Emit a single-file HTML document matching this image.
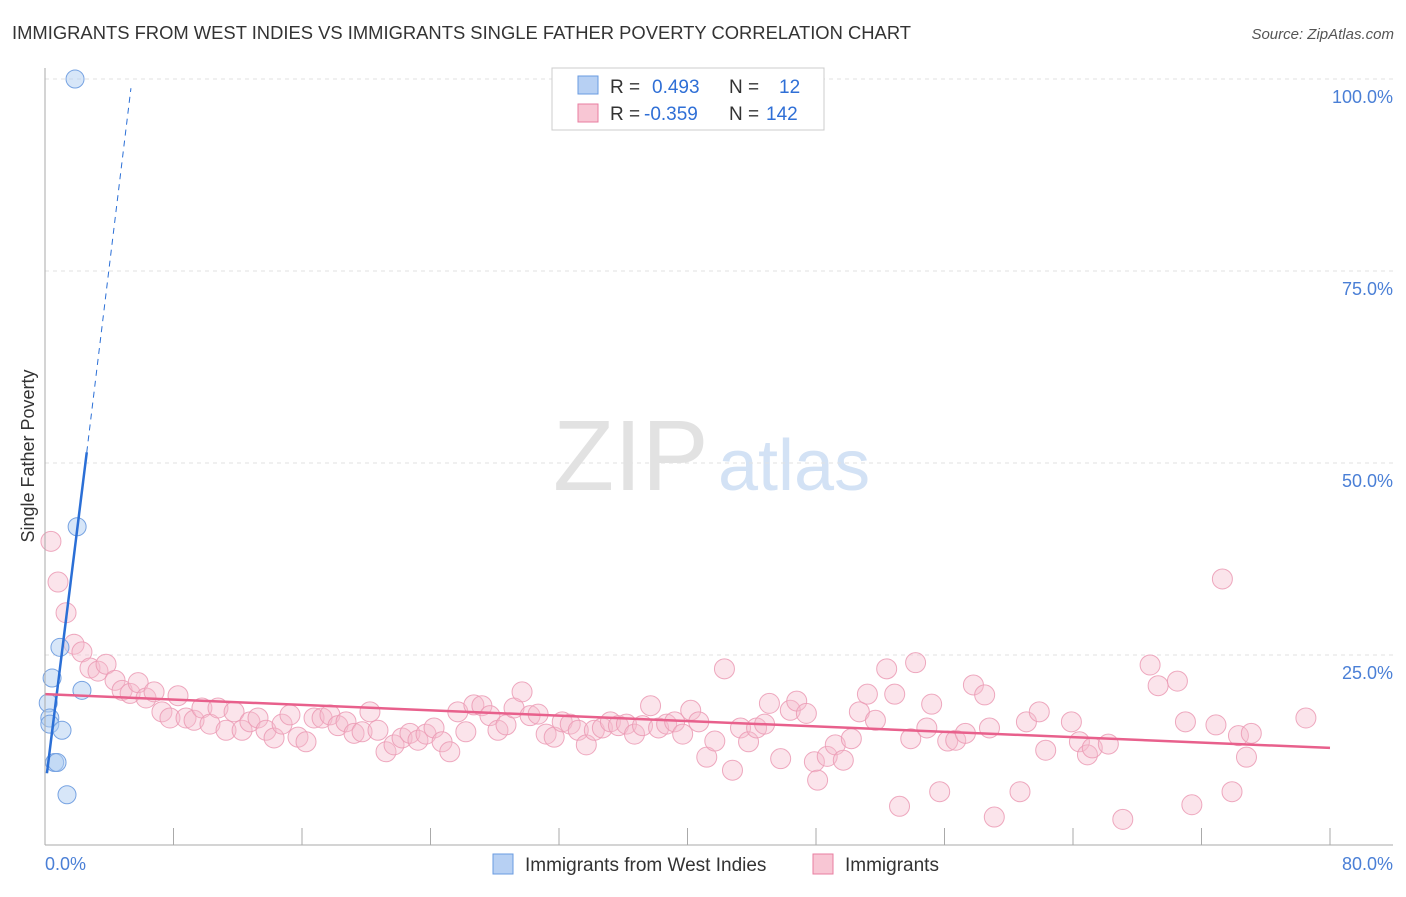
<!DOCTYPE html>
<html><head><meta charset="utf-8"><style>
body{margin:0;background:#fff;font-family:"Liberation Sans",sans-serif;}
svg text{font-family:"Liberation Sans",sans-serif;}
</style></head><body>
<svg id="chart" width="1406" height="892" xmlns="http://www.w3.org/2000/svg">
<text x="12" y="39" font-size="18" fill="#333" textLength="899" lengthAdjust="spacingAndGlyphs">IMMIGRANTS FROM WEST INDIES VS IMMIGRANTS SINGLE FATHER POVERTY CORRELATION CHART</text>
<text x="1394" y="39" font-size="15" fill="#555" text-anchor="end" font-style="italic">Source: ZipAtlas.com</text>
<text x="553" y="490" font-size="100" fill="#e2e2e2" font-family="Liberation Serif">ZIP</text>
<text x="718" y="490" font-size="72" fill="#d3e2f5">atlas</text>
<text transform="translate(34,456) rotate(-90)" font-size="18" fill="#333" text-anchor="middle">Single Father Poverty</text>
<g id="grid"></g><g id="ticks"></g><g id="pts"></g><g id="trends"></g>
<line x1="45" y1="68" x2="45" y2="845" stroke="#aaa"/>
<line x1="45" y1="845" x2="1393" y2="845" stroke="#aaa"/>
<text x="45" y="870" font-size="18" fill="#4a7fd6">0.0%</text>
<text x="1393" y="870" font-size="18" fill="#4a7fd6" text-anchor="end">80.0%</text>
<g>
<rect x="552" y="68" width="272" height="62" fill="#fff" stroke="#ccc"/>
<rect x="578" y="76" width="20" height="18" fill="#b7d0f3" stroke="#6a9be0"/>
<rect x="578" y="104" width="20" height="18" fill="#f8c6d4" stroke="#e87ea0"/>
<text x="610" y="93" font-size="19" fill="#333">R = </text><text x="652" y="93" font-size="19" fill="#2f6fd6">0.493</text>
<text x="729" y="93" font-size="19" fill="#333">N = </text><text x="779" y="93" font-size="19" fill="#2f6fd6">12</text>
<text x="610" y="120" font-size="19" fill="#333">R = </text><text x="644" y="120" font-size="19" fill="#2f6fd6">-0.359</text>
<text x="729" y="120" font-size="19" fill="#333">N = </text><text x="766" y="120" font-size="19" fill="#2f6fd6">142</text>
</g>
<g><rect x="493" y="854" width="20" height="20" fill="#b7d0f3" stroke="#6a9be0"/><text x="525" y="871" font-size="19" fill="#333">Immigrants from West Indies</text></g>
<g><rect x="813" y="854" width="20" height="20" fill="#f8c6d4" stroke="#e87ea0"/><text x="845" y="871" font-size="19" fill="#333">Immigrants</text></g>
</svg>
<script>
const yTicks=[25,50,75,100];
const xTicks=[0,8,16,24,32,40,48,56,64,72,80];
const blueX=[1.87,2.0,0.93,0.44,2.3,0.2,0.3,0.3,1.06,0.6,0.75,1.37];
const blueY=[100,41.7,26,22,20.4,18.75,16.8,16,15.2,11,11,6.8];
const pinkX=[0.37,0.81,1.31,1.81,2.3,2.8,3.3,3.8,4.36,4.8,5.3,5.8,6.29,6.79,7.28,7.78,8.28,8.78,9.28,9.77,10.27,10.77,11.27,11.77,12.27,12.76,13.26,13.76,14.26,14.76,15.25,15.75,16.25,16.75,17.25,17.74,18.24,18.74,19.24,19.74,20.23,20.73,21.23,21.73,22.23,22.72,23.22,23.72,24.22,24.72,25.2,25.7,26.2,26.7,27.2,27.7,28.2,28.7,29.2,29.7,30.2,30.7,31.2,31.7,32.2,32.7,33.2,33.7,34.2,34.7,35.2,35.7,36.2,36.7,37.2,37.7,38.2,38.7,39.2,39.7,40.2,40.7,41.2,41.7,42.3,42.8,43.3,43.8,44.3,44.8,45.1,45.8,46.4,46.8,47.4,47.9,48.1,48.7,49.2,49.7,50.2,50.7,51.2,51.7,52.4,52.9,53.2,53.9,54.2,54.9,55.2,55.7,56.2,56.7,57.3,57.8,58.5,58.8,59.1,60.7,61.1,61.9,62.3,63.9,64.4,64.9,65.2,66.2,67.1,68.8,69.3,70.5,71.0,71.4,72.9,73.3,73.9,74.3,74.8,75.1,78.5];
const pinkY=[39.8,34.5,30.5,26.4,25.4,23.3,22.9,23.8,21.7,20.4,20.0,21.4,19.4,20.2,17.6,16.8,19.7,16.8,16.5,18.1,16.0,18.1,15.2,17.6,15.2,16.3,16.8,15.2,14.2,16.0,17.2,14.3,13.7,16.8,16.8,17.2,15.8,16.3,14.8,15.0,17.6,15.2,12.4,13.3,14.2,14.8,13.9,14.7,15.5,13.7,12.4,17.6,15.0,18.5,18.4,17.1,15.2,15.9,18.1,20.2,17.1,17.3,14.7,14.3,16.3,16.0,15.2,13.3,15.2,15.5,16.3,15.8,16.0,14.7,15.8,18.4,15.5,16.0,16.3,14.7,17.8,16.3,11.7,13.8,23.2,10.0,15.5,13.7,15.5,16.0,18.7,11.5,17.8,19.0,17.4,11.1,8.7,11.8,13.3,11.3,14.1,17.6,19.9,16.5,23.2,19.9,5.3,14.1,24.0,15.5,18.6,7.2,13.8,13.9,14.8,21.1,19.8,15.5,3.9,7.2,16.3,17.6,12.6,16.3,13.7,12.0,12.9,13.4,3.6,23.7,21.0,21.6,16.3,5.5,15.9,34.9,7.2,14.5,11.7,14.8,16.8];
const blueTrend=[[0.12,9.6],[2.6,51.4],[5.35,98.8]];
const pinkTrend=[[0,19.9],[80,12.9]];
const X=v=>45+v*(1285/80), Y=v=>847-v*(192/25);
const NS="http://www.w3.org/2000/svg";
function mk(p,t,a){const e=document.createElementNS(NS,t);for(const k in a)e.setAttribute(k,a[k]);p.appendChild(e);return e;}
const grid=document.getElementById('grid'),ticks=document.getElementById('ticks'),pts=document.getElementById('pts'),tr=document.getElementById('trends');
yTicks.forEach(v=>{
 const l=mk(grid,'line',{x1:45,x2:1393,y1:Y(v),y2:Y(v),stroke:'#e2e2e2','stroke-dasharray':'4,4'});
 
 
 const t=mk(grid,'text',{x:1393,y:Y(v)+24,'font-size':18,fill:'#4a7fd6','text-anchor':'end'});
 t.textContent=v.toFixed(1)+'%';
 
 
});
xTicks.forEach(v=>{
 const l=mk(ticks,'line',{x1:X(v),x2:X(v),y1:828,y2:845,stroke:'#aaa'});
 
 
});
pinkX.forEach((x,i)=>{
 const c=mk(pts,'circle',{cx:X(x),cy:Y(pinkY[i]),r:10,fill:'#f6bccd','fill-opacity':0.4,stroke:'#eb9ab4','stroke-width':1,'stroke-opacity':0.85});
 
 
});
blueX.forEach((x,i)=>{
 const c=mk(pts,'circle',{cx:X(x),cy:Y(blueY[i]),r:9,fill:'#b0cdf2','fill-opacity':0.5,stroke:'#77a3e2','stroke-width':1});
 
 
});
const b1=mk(tr,'line',{x1:X(blueTrend[0][0]),y1:Y(blueTrend[0][1]),x2:X(blueTrend[1][0]),y2:Y(blueTrend[1][1]),stroke:'#2b6fd6','stroke-width':2.5});


const b2=mk(tr,'line',{x1:X(blueTrend[1][0]),y1:Y(blueTrend[1][1]),x2:X(blueTrend[2][0]),y2:Y(blueTrend[2][1]),stroke:'#2b6fd6','stroke-width':1,'stroke-dasharray':'6,5'});


const p1=mk(tr,'line',{x1:X(pinkTrend[0][0]),y1:Y(pinkTrend[0][1]),x2:X(pinkTrend[1][0]),y2:Y(pinkTrend[1][1]),stroke:'#e8608c','stroke-width':2.5});


</script>
</body></html>
